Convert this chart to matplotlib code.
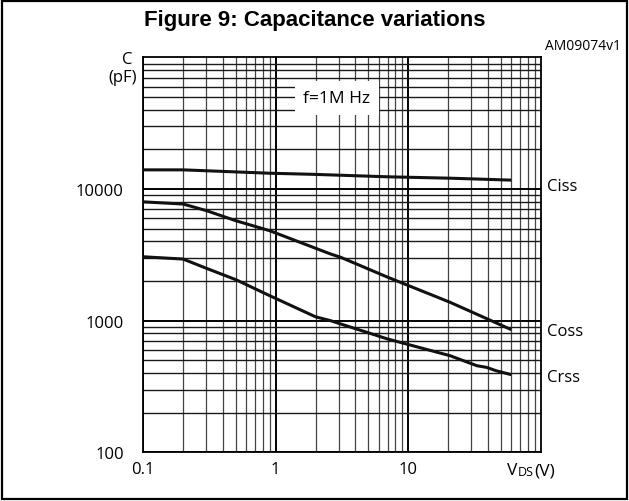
#!/usr/bin/env python
import numpy as np
import matplotlib
matplotlib.use('Agg')
import matplotlib.pyplot as plt
from matplotlib.patches import Rectangle
from matplotlib.ticker import LogLocator, NullFormatter

# Capacitance vs VDS (f = 1 MHz)
vds_ciss = [0.1, 0.2, 0.9, 1.9, 7.0, 20.7, 60]
ciss = [14000, 14000, 13200, 12950, 12400, 12100, 11700]

vds_coss = [0.1, 0.2, 0.3, 0.5, 0.9, 2.6, 3.1, 7.0, 20.7, 60]
coss = [8000, 7700, 6860, 5750, 4830, 3210, 3030, 2140, 1380, 855]

vds_crss = [0.1, 0.2, 0.3, 0.5, 0.9, 2.0, 2.6, 3.1, 7.0, 20.7, 33, 39, 46, 60]
crss = [3060, 2940, 2500, 2050, 1550, 1070, 1000, 944, 726, 542, 455, 442, 417, 389]

x_ticks = [0.1, 1, 10]
x_labels = ['0.1', '1', '10']
y_ticks = [100, 1000, 10000]
y_labels = ['100', '1000', '10000']

LABEL_FONT = ['Open Sans', 'DejaVu Sans']


def plot_capacitance():
    fig = plt.figure(figsize=(6.29, 5.02), dpi=100)
    ax = fig.add_axes([0.2277, 0.097, 0.6319, 0.7865])

    ax.set_xscale('log')
    ax.set_yscale('log')
    ax.set_xlim(0.1, 100)
    ax.set_ylim(100, 100000)

    # log grid: decades darker, sub-decades thinner
    ax.xaxis.set_minor_locator(LogLocator(base=10, subs=np.arange(2, 10)))
    ax.yaxis.set_minor_locator(LogLocator(base=10, subs=np.arange(2, 10)))
    ax.xaxis.set_minor_formatter(NullFormatter())
    ax.yaxis.set_minor_formatter(NullFormatter())
    ax.grid(which='major', color='black', linewidth=1.4, zorder=0)
    ax.grid(which='minor', axis='y', color='#1a1a1a', linewidth=1.0, zorder=0)
    ax.grid(which='minor', axis='x', color='#444444', linewidth=0.9, zorder=0)
    ax.set_axisbelow(True)

    for s in ax.spines.values():
        s.set_linewidth(1.3)
        s.set_color('black')

    ax.set_xticks(x_ticks)
    ax.set_xticklabels(x_labels, family=LABEL_FONT, fontsize=12)
    ax.set_yticks(y_ticks)
    ax.set_yticklabels(y_labels, family=LABEL_FONT, fontsize=12)
    ax.tick_params(axis='y', which='both', length=0, pad=14)
    ax.tick_params(axis='x', which='both', length=0, pad=6)

    for x, y in [(vds_ciss, ciss), (vds_coss, coss), (vds_crss, crss)]:
        ax.plot(x, y, color='#111111', linewidth=2.2, zorder=5,
                solid_capstyle='butt')

    # curve names on the right
    for name, y in [('Ciss', 10600), ('Coss', 840), ('Crss', 372)]:
        ax.text(1.015, y, name, transform=ax.get_yaxis_transform(),
                ha='left', va='center', family=LABEL_FONT, fontsize=12)

    ax.text(0.4875, 0.897, 'f=1M Hz', transform=ax.transAxes, ha='center',
            va='center', family=LABEL_FONT, fontsize=12.5, zorder=4,
            bbox=dict(boxstyle='square,pad=0.5', fc='white', ec='none'))

    ax.text(-0.04, 0.997, 'C', transform=ax.transAxes, ha='center',
            va='center', family=LABEL_FONT, fontsize=12)
    ax.text(-0.052, 0.95, '(pF)', transform=ax.transAxes, ha='center',
            va='center', family=LABEL_FONT, fontsize=12)

    ax.text(0.942, -0.025, 'V', transform=ax.transAxes, ha='right',
            va='top', family=LABEL_FONT, fontsize=12.5)
    ax.text(0.942, -0.031, 'DS', transform=ax.transAxes, ha='left',
            va='top', family=LABEL_FONT, fontsize=9)
    ax.text(0.985, -0.025, '(V)', transform=ax.transAxes, ha='left',
            va='top', family=LABEL_FONT, fontsize=12.5)

    fig.text(0.5, 0.96, 'Figure 9: Capacitance variations', ha='center',
             va='center', family=['Liberation Sans', 'DejaVu Sans'],
             weight='bold', fontsize=16)
    fig.text(0.988, 0.907, 'AM09074v1', ha='right', va='center',
             family=LABEL_FONT, fontsize=10)

    fig.patches.append(Rectangle((0.003, 0.003), 0.994, 0.994,
                                 transform=fig.transFigure, fill=False,
                                 edgecolor='black', linewidth=1.6))

    plt.savefig('out.png', dpi=100)


if __name__ == "__main__":
    plot_capacitance()
